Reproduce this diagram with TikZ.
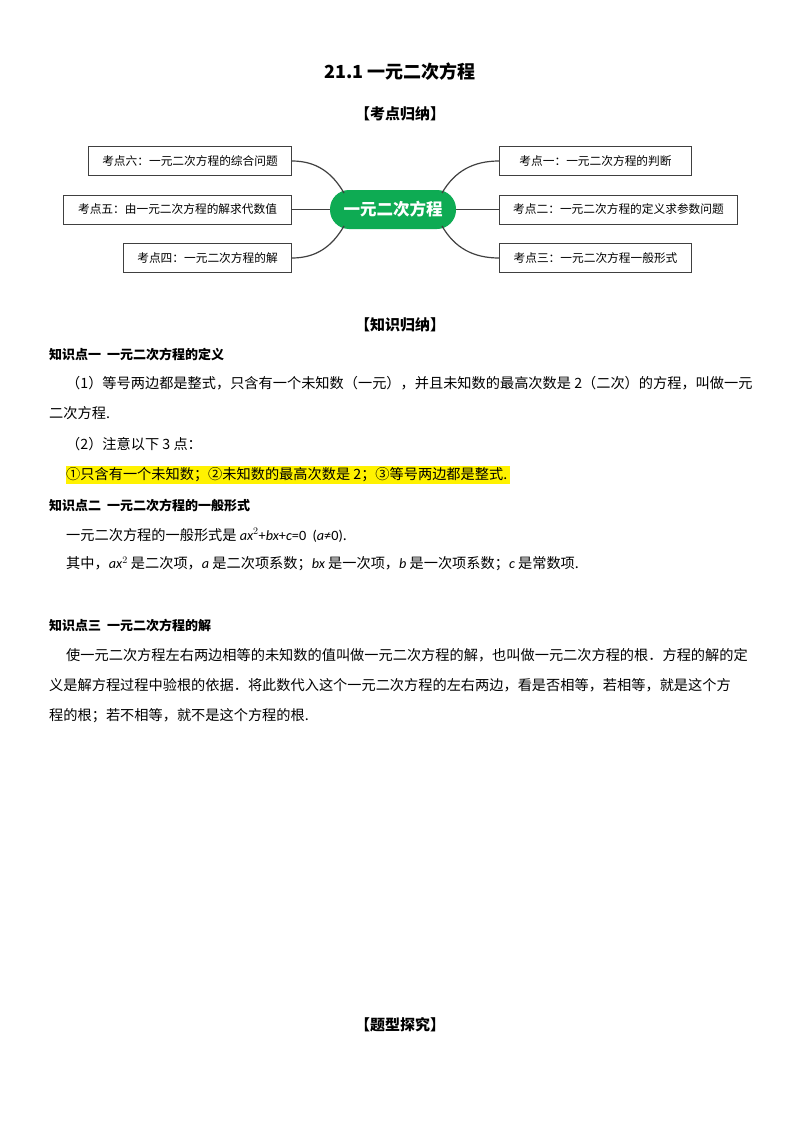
\documentclass[tikz,border=0pt]{standalone}
\usepackage{fontspec}
\setmainfont{Noto Sans CJK SC}
\newfontfamily\latinf{Carlito}
\begin{document}
\begin{tikzpicture}[x=1pt,y=-1pt,
  box/.style={draw=black!75,line width=1pt,minimum height=29pt,inner sep=0pt,font=\fontsize{11.7}{12}\selectfont,anchor=north west},
  link/.style={draw=black!75,line width=1.2pt},
  body/.style={anchor=west,inner sep=0pt,font=\fontsize{14.2}{15}\selectfont},
  head/.style={anchor=west,inner sep=0pt,font=\fontsize{13}{14}\bfseries\selectfont},
  title/.style={inner sep=0pt,font=\fontsize{15}{16}\bfseries\selectfont}]
\useasboundingbox[fill=white] (0,0) rectangle (800,1132);
\node[title,font=\fontsize{18}{20}\bfseries\selectfont] (t) at (400,72) {21.1\ 一元二次方程};
\node[title] (k1) at (400,114) {【考点归纳】};
\node[fill={rgb,255:red,14;green,171;blue,83},rounded corners=19pt,minimum width=126pt,minimum height=39pt,text=white,font=\fontsize{16.5}{18}\bfseries\selectfont,inner sep=0pt] (c) at (393,209.5) {一元二次方程};
\node[box,minimum width=203pt] (b6) at (88,146) {考点六：一元二次方程的综合问题};
\node[box,minimum width=228pt] (b5) at (63,194.5) {考点五：由一元二次方程的解求代数值};
\node[box,minimum width=168pt] (b4) at (123,243) {考点四：一元二次方程的解};
\node[box,minimum width=192pt] (b1) at (499,146) {考点一：一元二次方程的判断};
\node[box,minimum width=238pt] (b2) at (499,194.5) {考点二：一元二次方程的定义求参数问题};
\node[box,minimum width=192pt] (b3) at (499,243) {考点三：一元二次方程一般形式};
\coordinate (cl1) at (344,193); \coordinate (cl3) at (344,226);
\coordinate (cr1) at (442,193); \coordinate (cr3) at (442,226);
\draw[link] (cl1) to[out=120,in=0] (b6.east);
\draw[link] (c.west) -- (b5.east);
\draw[link] (cl3) to[out=-120,in=0] (b4.east);
\draw[link] (cr1) to[out=60,in=180] (b1.west);
\draw[link] (c.east) -- (b2.west);
\draw[link] (cr3) to[out=-60,in=180] (b3.west);
\node[title] (k2) at (400,325) {【知识归纳】};
\node[head] (h1) at (49,355) {知识点一\ \ 一元二次方程的定义};
\node[body] (l1) at (66,383) {（1）等号两边都是整式，只含有一个未知数（一元），并且未知数的最高次数是 2（二次）的方程，叫做一元};
\node[body] (l2) at (49,413) {二次方程.};
\node[body] (l3) at (66,444) {（2）注意以下 3 点：};
\node[body,fill=yellow,inner ysep=2pt] (l4) at (66,475) {①只含有一个未知数；②未知数的最高次数是 2；③等号两边都是整式.\ \ };
\node[head] (h2) at (49,506) {知识点二\ \ 一元二次方程的一般形式};
\node[body] (l5) at (66,535) {一元二次方程的一般形式是 {\latinf\itshape ax}$^2${\latinf +\itshape bx}{\latinf +\itshape c}{\latinf =0\ \ (\textit{a}≠0)}.};
\node[body] (l6) at (66,564) {其中，{\latinf\itshape ax}$^2$ 是二次项，{\latinf\itshape a} 是二次项系数；{\latinf\itshape bx} 是一次项，{\latinf\itshape b} 是一次项系数；{\latinf\itshape c} 是常数项.};
\node[head] (h3) at (49,626) {知识点三\ \ 一元二次方程的解};
\node[body] (l7) at (66,655) {使一元二次方程左右两边相等的未知数的值叫做一元二次方程的解，也叫做一元二次方程的根．方程的解的定};
\node[body] (l8) at (49,685) {义是解方程过程中验根的依据．将此数代入这个一元二次方程的左右两边，看是否相等，若相等，就是这个方};
\node[body] (l9) at (49,716) {程的根；若不相等，就不是这个方程的根.};
\node[title] (k3) at (400,1025) {【题型探究】};
\end{tikzpicture}
\end{document}
